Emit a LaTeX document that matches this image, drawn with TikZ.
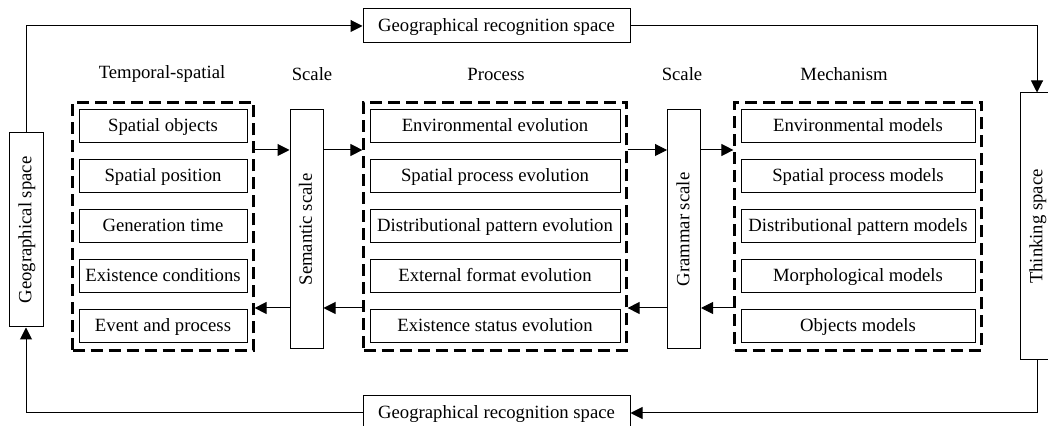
\documentclass[tikz,border=0pt]{standalone}
\usepackage{fontspec}
\setmainfont{Liberation Serif}
\usetikzlibrary{arrows.meta,positioning,fit,calc}

\begin{document}
\begin{tikzpicture}[x=0.5pt, y=-0.5pt,
  font=\fontsize{9.35}{11}\selectfont,
  item/.style={draw, line width=0.5pt, minimum height=16.5pt, inner sep=0pt,
    text height=1.6ex, text depth=0.45ex},
  group/.style={draw, line width=1.1pt, dash pattern=on 6pt off 3pt,
    inner xsep=3pt, inner ysep=3.5pt},
  bar/.style={draw, line width=0.5pt, rotate=90, inner sep=0pt,
    text height=1.6ex, text depth=0.45ex},
  arr/.style={-{Triangle[length=6pt,width=6pt]}, line width=0.5pt}]
  \useasboundingbox (0,0) rectangle (1048,426);

  % Outer loop
  \node[bar, minimum width=97pt, minimum height=17pt]
    (geo) at (26,230) {Geographical space};
  \node[bar, minimum width=133.5pt, minimum height=17pt]
    (think) at (1037,226.5) {Thinking space};
  \node[item, minimum width=133.5pt, minimum height=17pt]
    (topbox) at (496.5,26) {Geographical recognition space};
  \node[item, minimum width=133.5pt, minimum height=17pt]
    (botbox) at (496.5,413) {Geographical recognition space};

  % Headings
  \node (hts)   at (162,74) {Temporal-spatial};
  \node (hsc1)  at (312,74) {Scale};
  \node (hpro)  at (496,74) {Process};
  \node (hsc2)  at (682,74) {Scale};
  \node (hmech) at (844,74) {Mechanism};

  % Temporal-spatial items
  \node[item, minimum width=84pt] (t1) at (163,126.5) {Spatial objects};
  \node[item, minimum width=84pt] (t2) at (163,176.5) {Spatial position};
  \node[item, minimum width=84pt] (t3) at (163,226.5) {Generation time};
  \node[item, minimum width=84pt] (t4) at (163,276.5) {Existence conditions};
  \node[item, minimum width=84pt] (t5) at (163,326.5) {Event and process};

  % Process items
  \node[item, minimum width=125pt] (p1) at (495,126.5) {Environmental evolution};
  \node[item, minimum width=125pt] (p2) at (495,176.5) {Spatial process evolution};
  \node[item, minimum width=125pt] (p3) at (495,226.5) {Distributional pattern evolution};
  \node[item, minimum width=125pt] (p4) at (495,276.5) {External format evolution};
  \node[item, minimum width=125pt] (p5) at (495,326.5) {Existence status evolution};

  % Mechanism items
  \node[item, minimum width=117pt] (m1) at (858,126.5) {Environmental models};
  \node[item, minimum width=117pt] (m2) at (858,176.5) {Spatial process models};
  \node[item, minimum width=117pt] (m3) at (858,226.5) {Distributional pattern models};
  \node[item, minimum width=117pt] (m4) at (858,276.5) {Morphological models};
  \node[item, minimum width=117pt] (m5) at (858,326.5) {Objects models};

  % Dashed groups
  \node[group, fit=(t1)(t5)] (g1) {};
  \node[group, fit=(p1)(p5)] (g2) {};
  \node[group, fit=(m1)(m5)] (g3) {};

  % Scale bars
  \node[bar, minimum width=119.5pt, minimum height=16.5pt]
    (sem) at (306.5,229.5) {Semantic scale};
  \node[bar, minimum width=119.5pt, minimum height=16.5pt]
    (gram) at (684,229.5) {Grammar scale};

  % Arrow levels
  \coordinate (hi) at (0,150);
  \coordinate (lo) at (0,308);

  % Forward arrows
  \draw[arr] (g1.east|-hi) -- (sem.north|-hi);
  \draw[arr] (sem.south|-hi) -- (g2.west|-hi);
  \draw[arr] (g2.east|-hi) -- (gram.north|-hi);
  \draw[arr] (gram.south|-hi) -- (g3.west|-hi);

  % Backward arrows
  \draw[arr] (g3.west|-lo) -- (gram.south|-lo);
  \draw[arr] (gram.north|-lo) -- (g2.east|-lo);
  \draw[arr] (g2.west|-lo) -- (sem.south|-lo);
  \draw[arr] (sem.north|-lo) -- (g1.east|-lo);

  % Loop connectors
  \draw[arr] (geo.east) |- (topbox.west);
  \draw[arr] (topbox.east) -| (think.east);
  \draw[arr] (think.west) |- (botbox.east);
  \draw[arr] (botbox.west) -| (geo.west);

\end{tikzpicture}
\end{document}
